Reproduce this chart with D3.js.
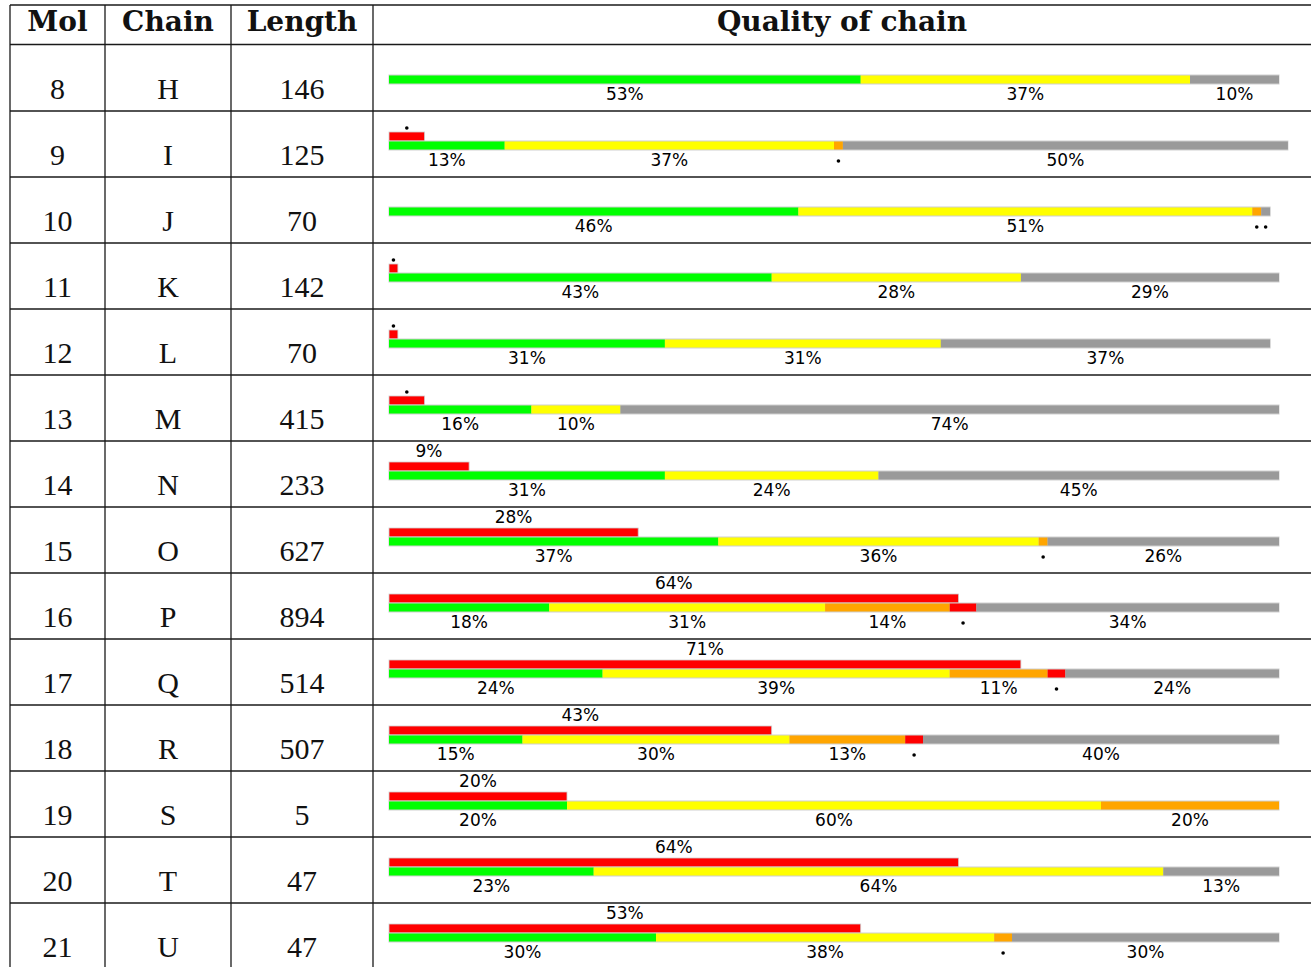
<!DOCTYPE html>
<html>
<head>
<meta charset="utf-8">
<script src="https://cdn.jsdelivr.net/npm/d3@7"></script>
<style>
  html, body { margin: 0; padding: 0; background: #fff; }
  svg { display: block; }
</style>
</head>
<body>
<svg id="chart" width="1311" height="967"></svg>
<script>
// ---- data ----
const headers = ["Mol", "Chain", "Length", "Quality of chain"];
const mols    = [8, 9, 10, 11, 12, 13, 14, 15, 16, 17, 18, 19, 20, 21];
const chains  = ["H", "I", "J", "K", "L", "M", "N", "O", "P", "Q", "R", "S", "T", "U"];
const lengths = [146, 125, 70, 142, 70, 415, 233, 627, 894, 514, 507, 5, 47, 47];
// percentage of residues per quality class (main bar)
const greenPct  = [53, 13, 46, 43, 31, 16, 31, 37, 18, 24, 15, 20, 23, 30];
const yellowPct = [37, 37, 51, 28, 31, 10, 24, 36, 31, 39, 30, 60, 64, 38];
const orangePct = [ 0,  1,  1,  0,  0,  0,  0,  1, 14, 11, 13, 20,  0,  2];
const redPct    = [ 0,  0,  0,  0,  0,  0,  0,  0,  3,  2,  2,  0,  0,  0];
const greyPct   = [10, 50,  1, 29, 37, 74, 45, 26, 34, 24, 40,  0, 13, 30];
// electron density outlier fraction (upper red bar)
const densityPct = [0, 4, 0, 1, 1, 4, 9, 28, 64, 71, 43, 20, 64, 53];

const classes = ["green", "yellow", "orange", "red", "grey"];
const classColor = {green: "#00ff00", yellow: "#ffff00", orange: "#ffa500", red: "#ff0000", grey: "#9a9a9a"};
const classValues = {green: greenPct, yellow: yellowPct, orange: orangePct, red: redPct, grey: greyPct};

// ---- layout ----
const svg = d3.select("#chart");
const colEdges = [10, 105, 231, 373, 1311];
const tableTop = 5, headerBottom = 44.5, rowH = 66;
const rowTop = i => 45 + i * rowH;
const x = d3.scaleLinear().domain([0, 100]).range([389, 1279]);
const labelMin = 5;

// grid lines
const gridColor = "#1a1a1a";
svg.append("line").attr("x1", 10).attr("x2", 1311).attr("y1", tableTop).attr("y2", tableTop)
  .attr("stroke", gridColor).attr("stroke-width", 1.3);
svg.append("line").attr("x1", 10).attr("x2", 1311).attr("y1", headerBottom).attr("y2", headerBottom)
  .attr("stroke", gridColor).attr("stroke-width", 1.6);
mols.forEach((m, i) => {
  if (i === 0) return;
  svg.append("line").attr("x1", 10).attr("x2", 1311).attr("y1", rowTop(i)).attr("y2", rowTop(i))
    .attr("stroke", gridColor).attr("stroke-width", 1.3);
});
colEdges.slice(0, 4).forEach(cx => {
  svg.append("line").attr("x1", cx).attr("x2", cx).attr("y1", tableTop).attr("y2", 967)
    .attr("stroke", gridColor).attr("stroke-width", 1.3);
});

// header
headers.forEach((h, j) => {
  svg.append("text")
    .attr("x", (colEdges[j] + colEdges[j + 1]) / 2)
    .attr("y", 31)
    .attr("text-anchor", "middle")
    .attr("font-family", "DejaVu Serif")
    .attr("font-weight", "bold")
    .attr("font-size", 28)
    .attr("fill", "#111")
    .text(h);
});

// body
mols.forEach((m, i) => {
  const top = rowTop(i);
  const g = svg.append("g");
  [m, chains[i], lengths[i]].forEach((v, j) => {
    g.append("text")
      .attr("x", (colEdges[j] + colEdges[j + 1]) / 2)
      .attr("y", top + 54)
      .attr("text-anchor", "middle")
      .attr("font-family", "Liberation Serif")
      .attr("font-size", 30)
      .attr("fill", "#111")
      .text(v);
  });

  // upper density bar
  const dp = densityPct[i];
  if (dp > 0) {
    g.append("rect")
      .attr("x", x(0)).attr("y", top + 21)
      .attr("width", x(dp) - x(0)).attr("height", 9)
      .attr("fill", "#ff0000").attr("stroke", "#cfcfcf").attr("stroke-width", 0.8);
    const cx = (x(0) + x(dp)) / 2;
    if (dp >= labelMin) {
      g.append("text").attr("x", cx).attr("y", top + 16)
        .attr("text-anchor", "middle").attr("font-family", "DejaVu Sans")
        .attr("font-size", 17).attr("fill", "#000").text(dp + "%");
    } else {
      g.append("circle").attr("cx", cx).attr("cy", top + 17).attr("r", 1.8).attr("fill", "#000");
    }
  }

  // main bar segments
  let acc = 0;
  const segs = [];
  classes.forEach(c => {
    const v = classValues[c][i];
    if (v > 0) { segs.push({c, v, start: acc}); acc += v; }
  });
  g.append("rect")
    .attr("x", x(0) - 0.5).attr("y", top + 29.5)
    .attr("width", x(acc) - x(0) + 1).attr("height", 10)
    .attr("fill", "#cfcfcf");
  segs.forEach(s => {
    g.append("rect")
      .attr("x", x(s.start)).attr("y", top + 30.5)
      .attr("width", x(s.start + s.v) - x(s.start)).attr("height", 8)
      .attr("fill", classColor[s.c]);
    const cx = (x(s.start) + x(s.start + s.v)) / 2;
    if (s.v >= labelMin) {
      g.append("text").attr("x", cx).attr("y", top + 55)
        .attr("text-anchor", "middle").attr("font-family", "DejaVu Sans")
        .attr("font-size", 17).attr("fill", "#000").text(s.v + "%");
    } else {
      g.append("circle").attr("cx", cx).attr("cy", top + 50).attr("r", 1.8).attr("fill", "#000");
    }
  });
});
</script>
</body>
</html>
